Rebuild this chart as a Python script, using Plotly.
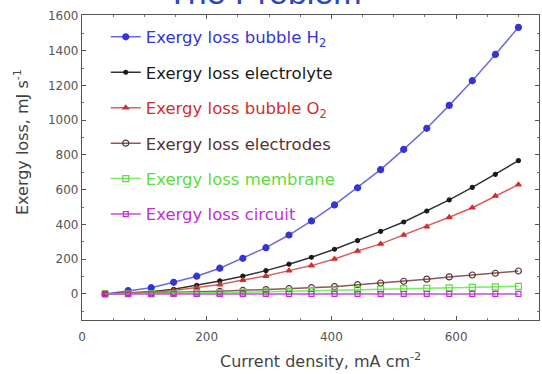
import plotly.graph_objects as go

current_density = [37, 74, 111, 147, 184, 221, 258, 295, 332, 368, 405, 442, 479, 516, 553, 589, 626, 663, 700]

loss_bubble_h2 = [0, 19, 36, 67, 102, 148, 205, 266, 339, 420, 512, 611, 715, 832, 953, 1085, 1227, 1378, 1534]
loss_electrolyte = [0, 5, 12, 27, 50, 75, 102, 134, 171, 211, 257, 307, 360, 414, 477, 541, 613, 688, 767]
loss_bubble_o2 = [0, 3, 8, 20, 35, 54, 80, 103, 134, 163, 201, 247, 288, 339, 387, 441, 496, 564, 629]
loss_electrodes = [0, 2, 5, 8, 12, 15, 20, 25, 30, 36, 42, 53, 63, 73, 85, 98, 109, 119, 132]
loss_membrane = [0, 1, 2, 4, 6, 8, 10, 12, 15, 19, 21, 24, 27, 30, 32, 35, 38, 41, 44]
loss_circuit = [0, 0, 0, 0, 0, 0, 0, 0, 0, 0, 0, 0, 0, 0, 0, 0, 0, 0, 0]

series_names = [
    ("Exergy loss bubble H<sub>2</sub>", "#3434d8", "#6a6ae0", "circle", 6),
    ("Exergy loss electrolyte", "#1a1a1a", "#333333", "circle", 4),
    ("Exergy loss bubble O<sub>2</sub>", "#d03030", "#d86060", "triangle-up", 5),
    ("Exergy loss electrodes", "#5a3030", "#8a5a5a", "circle-open", 6),
    ("Exergy loss membrane", "#5edc3c", "#7ee860", "square-open", 6),
    ("Exergy loss circuit", "#c030d8", "#c050e0", "square-open", 5),
]
series_values = [loss_bubble_h2, loss_electrolyte, loss_bubble_o2, loss_electrodes, loss_membrane, loss_circuit]

fig = go.Figure()
for i, ((name, mcol, lcol, sym, msize), vals) in enumerate(zip(series_names, series_values)):
    fig.add_trace(go.Scatter(
        x=current_density, y=vals, mode="lines+markers",
        name=f"<span style='color:{mcol}'>{name}</span>",
        legendgroup=f"g{i}",
        line=dict(color=lcol, width=1.5),
        marker=dict(color=mcol, size=msize, symbol=sym, line=dict(color=mcol, width=1.2)),
    ))

axis_common = dict(
    showgrid=False, zeroline=False, showline=True, linecolor="#555555", linewidth=1.2,
    mirror="ticks", ticks="inside", ticklen=4, tickcolor="#555555",
    tickfont=dict(family="DejaVu Sans", size=12, color="#555555"),
)
fig.update_xaxes(range=[0, 733], tickvals=[0, 200, 400, 600], ticklabelstandoff=5,
                 minor=dict(dtick=50, ticks="inside", ticklen=2, tickcolor="#777777"), **axis_common)
fig.update_yaxes(range=[-150, 1605], tickvals=[0, 200, 400, 600, 800, 1000, 1200, 1400, 1600], ticklabelstandoff=0,
                 minor=dict(dtick=100, ticks="inside", ticklen=2, tickcolor="#777777"), **axis_common)

fig.update_layout(
    width=542, height=374,
    margin=dict(l=82, r=3, t=15, b=54),
    paper_bgcolor="white", plot_bgcolor="white",
    font=dict(family="DejaVu Sans", color="#444444"),
    legend=dict(x=0.052, y=0.985, xanchor="left", yanchor="top", bgcolor="rgba(0,0,0,0)",
                font=dict(size=16.5, family="DejaVu Sans"), tracegroupgap=11, itemwidth=30),
    annotations=[
        dict(text="The Problem", x=0.40, y=1.008, xref="paper", yref="paper", xanchor="center", yanchor="bottom",
             showarrow=False, font=dict(size=34, color="#2a48c0", family="Liberation Sans, Arial")),
        dict(text="Exergy loss, mJ s<sup>-1</sup>", x=-0.131, y=0.584, xref="paper", yref="paper",
             xanchor="center", yanchor="middle",
             textangle=-90, showarrow=False, font=dict(size=16, color="#444444")),
        dict(text="Current density, mA cm<sup>-2</sup>", x=0.521, y=-0.134, xref="paper", yref="paper",
             xanchor="center", yanchor="middle",
             showarrow=False, font=dict(size=16, color="#444444")),
    ],
)

fig.write_html("out.html", config={"displayModeBar": False},
               post_script="document.body.style.margin='0';document.body.style.padding='0';")
